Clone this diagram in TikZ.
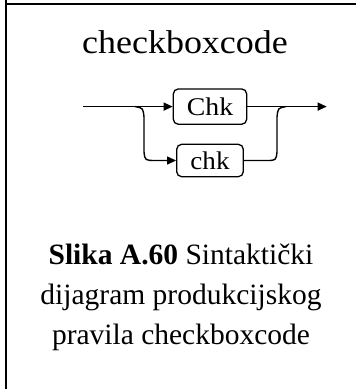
\documentclass[tikz,border=0pt]{standalone}
\usepackage{fontspec}
\setmainfont{Liberation Serif}
\usetikzlibrary{arrows.meta}
\tikzset{
  frame/.style={line width=1.9pt, black},
  conn/.style={line width=1.4pt, black},
  arr/.style={conn, -{Triangle[length=9pt,width=8pt]}},
  termbox/.style={draw, line width=1.3pt, rounded corners=5pt, inner sep=0pt,
     font=\fontsize{25.5}{30}\selectfont},
  titletext/.style={font=\fontsize{33}{40}\selectfont, anchor=base},
  captext/.style={font=\fontsize{29.5}{40}\selectfont, anchor=base}
}
\begin{document}
\begin{tikzpicture}[x=1pt,y=-1pt]
\useasboundingbox (0,0) rectangle (356,389);
% frame
\draw[frame] (5.7,0) -- (5.7,389);
\draw[frame] (5.7,3.8) -- (356,3.8);
% title
\node[titletext, xscale=1.09] (title) at (185,53) {checkboxcode};
% boxes
\node[termbox, minimum width=73.4pt, minimum height=35.3pt] (Chk) at (210,106.6) {\scalebox{1.09}[1]{Chk}};
\node[termbox, minimum width=66.6pt, minimum height=32.4pt] (chk) at (210,160.5) {\scalebox{1.06}[1]{chk}};
% coordinates
\coordinate (start) at (83.3,106.6);
\coordinate (split) at (135,106.6);
\coordinate (merge) at (286,106.6);
\coordinate (end) at (326.7,106.6);
% main path
\draw[arr] (start) -- (Chk.west);
\draw[arr] (Chk.east) -- (end);
% lower branch
\draw[arr] (split) .. controls (143,108) .. (144,117) -- (144,152)
   .. controls (145,160.5) .. (156,160.5) -- (chk.west);
\draw[conn] (chk.east) -- (266,160.5) .. controls (276,160.5) .. (277,152)
   -- (277,117) .. controls (278,108) .. (merge);
% caption
\node[captext] (cap1) at (181,264.3) {\textbf{Slika A.60} Sintaktički};
\node[captext] (cap2) at (181,304.3) {dijagram produkcijskog};
\node[captext] (cap3) at (181,344.3) {pravila checkboxcode};
\end{tikzpicture}
\end{document}
